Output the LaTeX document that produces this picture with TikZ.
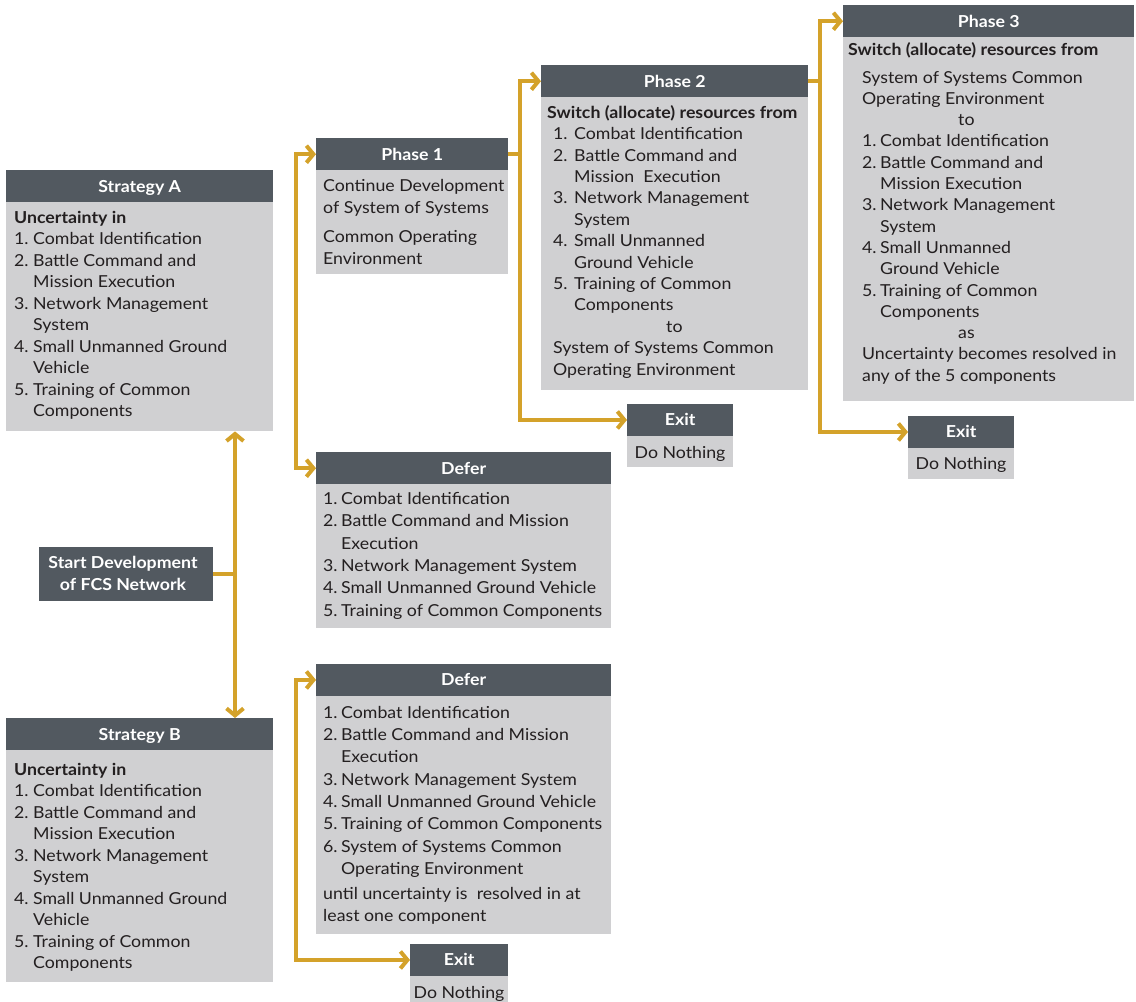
\documentclass[tikz,border=0pt]{standalone}
\usepackage{fontspec}
\setmainfont{Lato}[FakeStretch=1.075]
\usetikzlibrary{arrows.meta}
\definecolor{goldc}{HTML}{D4A22A}
\definecolor{hdrc}{HTML}{525960}
\definecolor{bodyc}{HTML}{D0D0D2}
\definecolor{txtc}{HTML}{231F20}
\newcommand{\fs}{\rule{0pt}{15pt}}
\newcommand{\nbx}[2]{\makebox[#1][l]{#2}}
\begin{document}
\begin{tikzpicture}[x=1pt,y=-1pt,
  hdr/.style={fill=hdrc, text=white, font=\bfseries\fontsize{16.5}{20}\selectfont, inner sep=0pt, anchor=north west, text height=11.8pt, text depth=0pt},
  bdy/.style={fill=bodyc, inner sep=0pt, anchor=north west},
  txt/.style={anchor=north west, inner sep=0pt, align=left, text=txtc},
  dn/.style={anchor=base, inner sep=0pt, text=txtc, font=\fontsize{16.5}{20}\selectfont},
  gline/.style={draw=goldc, line width=4pt},
  tipb/.tip={Straight Barb[length=7pt,width=17pt]},
  garr/.style={gline, tipb-tipb}
]
\useasboundingbox (0,0) rectangle (1136,1002);

% Strategy A
\node[hdr, minimum width=267, minimum height=32] (sah) at (6,170) {Strategy A};
\node[bdy, minimum width=267, minimum height=229] (sab) at (6,202) {};
\node[txt, font=\fontsize{16.5}{21.5}\selectfont] (sat) at (14,208) {\fs\textbf{Uncertainty in}\\
\nbx{19pt}{1.}Combat Identification\\
\nbx{19pt}{2.}Battle Command and\\
\hspace*{19pt}Mission Execution\\
\nbx{19pt}{3.}Network Management\\
\hspace*{19pt}System\\
\nbx{19pt}{4.}Small Unmanned Ground\\
\hspace*{19pt}Vehicle\\
\nbx{19pt}{5.}Training of Common\\
\hspace*{19pt}Components};

% Start
\node[fill=hdrc, inner sep=0pt, anchor=north west, minimum width=174, minimum height=54] (st) at (39,547) {};
\node[anchor=north, inner sep=0pt, align=center, text=white, font=\bfseries\fontsize{16.5}{21.5}\selectfont] (stt) at (123,553.5) {\fs Start Development\\of FCS Network};

% Strategy B
\node[hdr, minimum width=267, minimum height=32] (sbh) at (6,718) {Strategy B};
\node[bdy, minimum width=267, minimum height=232] (sbb) at (6,750) {};
\node[txt, font=\fontsize{16.5}{21.5}\selectfont] (sbt) at (14,760) {\fs\textbf{Uncertainty in}\\
\nbx{19pt}{1.}Combat Identification\\
\nbx{19pt}{2.}Battle Command and\\
\hspace*{19pt}Mission Execution\\
\nbx{19pt}{3.}Network Management\\
\hspace*{19pt}System\\
\nbx{19pt}{4.}Small Unmanned Ground\\
\hspace*{19pt}Vehicle\\
\nbx{19pt}{5.}Training of Common\\
\hspace*{19pt}Components};

% Phase 1
\node[hdr, minimum width=192, minimum height=32] (p1h) at (316,138) {Phase 1};
\node[bdy, minimum width=192, minimum height=104] (p1b) at (316,170) {};
\node[txt, font=\fontsize{16.5}{22}\selectfont] (p1t) at (323,176) {\fs Continue Development\\
of System of Systems\\[7pt]
Common Operating\\
Environment};

% Defer (top)
\node[hdr, minimum width=295, minimum height=32] (d1h) at (316,452) {Defer};
\node[bdy, minimum width=295, minimum height=144] (d1b) at (316,484) {};
\node[txt, font=\fontsize{16.5}{22.4}\selectfont] (d1t) at (323,489) {\fs\nbx{18pt}{1.}Combat Identification\\
\nbx{18pt}{2.}Battle Command and Mission\\
\hspace*{18pt}Execution\\
\nbx{18pt}{3.}Network Management System\\
\nbx{18pt}{4.}Small Unmanned Ground Vehicle\\
\nbx{18pt}{5.}Training of Common Components};

% Defer (bottom)
\node[hdr, minimum width=295, minimum height=31.5] (d2h) at (316,664) {Defer};
\node[bdy, minimum width=295, minimum height=238.5] (d2b) at (316,695.5) {};
\node[txt, font=\fontsize{16.5}{22.3}\selectfont] (d2t) at (323,703) {\fs\nbx{18pt}{1.}Combat Identification\\
\nbx{18pt}{2.}Battle Command and Mission\\
\hspace*{18pt}Execution\\
\nbx{18pt}{3.}Network Management System\\
\nbx{18pt}{4.}Small Unmanned Ground Vehicle\\
\nbx{18pt}{5.}Training of Common Components\\
\nbx{18pt}{6.}System of Systems Common\\
\hspace*{18pt}Operating Environment\\[3pt]
until uncertainty is\ \ resolved in at\\
least one component};

% Exit (bottom)
\node[hdr, minimum width=98, minimum height=31.5] (e4h) at (410,944) {Exit};
\node[bdy, minimum width=98, minimum height=40] (e4b) at (410,975.5) {};
\node[dn] (e4t) at (459,998) {Do Nothing};

% Phase 2
\node[hdr, minimum width=267, minimum height=32] (p2h) at (541,65) {Phase 2};
\node[bdy, minimum width=267, minimum height=293] (p2b) at (541,97) {};
\node[txt, font=\fontsize{16.5}{21.4}\selectfont] (p2t) at (547,103) {\fs\textbf{Switch (allocate) resources from}\\
\hspace*{6pt}\nbx{21pt}{1.}Combat Identification\\
\hspace*{6pt}\nbx{21pt}{2.}Battle Command and\\
\hspace*{27pt}Mission\ \ Execution\\
\hspace*{6pt}\nbx{21pt}{3.}Network Management\\
\hspace*{27pt}System\\
\hspace*{6pt}\nbx{21pt}{4.}Small Unmanned\\
\hspace*{27pt}Ground Vehicle\\
\hspace*{6pt}\nbx{21pt}{5.}Training of Common\\
\hspace*{27pt}Components\\
\hspace*{119pt}to\\
\hspace*{6pt}System of Systems Common\\
\hspace*{6pt}Operating Environment};

% Exit (middle)
\node[hdr, minimum width=106, minimum height=31.5] (e2h) at (627,404) {Exit};
\node[bdy, minimum width=106, minimum height=31.5] (e2b) at (627,435.5) {};
\node[dn] (e2t) at (680,458) {Do Nothing};

% Phase 3
\node[hdr, minimum width=291, minimum height=32] (p3h) at (843,5) {Phase 3};
\node[bdy, minimum width=291, minimum height=364] (p3b) at (843,37) {};
\node[txt, font=\fontsize{16.5}{21.3}\selectfont] (p3t) at (848,40) {\fs\textbf{Switch (allocate) resources from}\\[6.5pt]
\hspace*{14pt}System of Systems Common\\
\hspace*{14pt}Operating Environment\\
\hspace*{110pt}to\\
\hspace*{14pt}\nbx{18pt}{1.}Combat Identification\\
\hspace*{14pt}\nbx{18pt}{2.}Battle Command and\\
\hspace*{32pt}Mission Execution\\
\hspace*{14pt}\nbx{18pt}{3.}Network Management\\
\hspace*{32pt}System\\
\hspace*{14pt}\nbx{18pt}{4.}Small Unmanned\\
\hspace*{32pt}Ground Vehicle\\
\hspace*{14pt}\nbx{18pt}{5.}Training of Common\\
\hspace*{32pt}Components\\
\hspace*{110pt}as\\
\hspace*{14pt}Uncertainty becomes resolved in\\
\hspace*{14pt}any of the 5 components};

% Exit (right)
\node[hdr, minimum width=106, minimum height=31.5] (e3h) at (908,416) {Exit};
\node[bdy, minimum width=106, minimum height=31.5] (e3b) at (908,447.5) {};
\node[dn] (e3t) at (961,469.5) {Do Nothing};

% connectors
\coordinate (j0) at (235,573);
\coordinate (j1) at (296,0);
\coordinate (j2) at (520,0);
\coordinate (j3) at (820,0);
\draw[gline] (st.east) -- (st.east -| j0);
\draw[garr] (sab.south -| j0) -- (sbh.north -| j0);
\draw[garr] (p1h.west) -- (p1h.west -| j1) -- (d1h.west -| j1) -- (d1h.west);
\draw[gline] (p1h.east) -- (p1h.east -| j2);
\draw[garr] (p2h.west) -- (p2h.west -| j2) -- (e2h.west -| j2) -- (e2h.west);
\draw[gline] (p2h.east) -- (p2h.east -| j3);
\draw[garr] (p3h.west) -- (p3h.west -| j3) -- (e3h.west -| j3) -- (e3h.west);
\draw[garr] (d2h.west) -- (d2h.west -| j1) -- (e4h.west -| j1) -- (e4h.west);
\end{tikzpicture}
\end{document}
